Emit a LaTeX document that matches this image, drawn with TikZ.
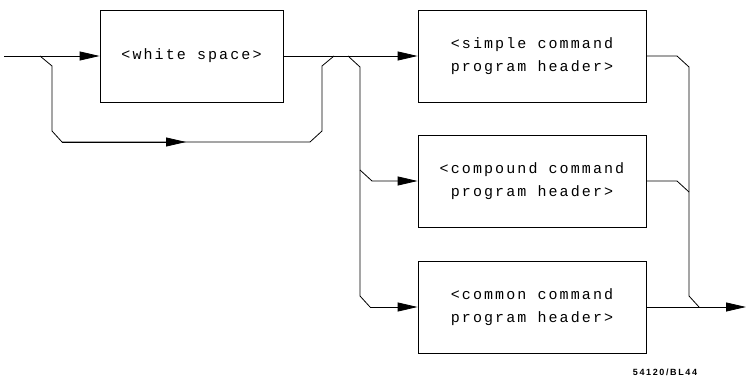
\documentclass[tikz,border=0pt]{standalone}
\usepackage{fontspec}
\newfontfamily\plotfont[LetterSpace=14]{Liberation Mono}
\newfontfamily\tagfont[LetterSpace=18]{Liberation Sans}
\usetikzlibrary{arrows.meta,calc,positioning}

\begin{document}
\begin{tikzpicture}[
  x=1pt, y=-1pt,
  font=\plotfont\fontsize{15}{23}\selectfont,
  line/.style={line width=0.8pt, draw=black, line join=round},
  flow/.style={line, -{Triangle[length=20pt, width=9pt]}},
  box/.style={draw=black, line width=0.8pt, minimum height=92pt, inner sep=0pt, align=center}
]

\useasboundingbox (0,0) rectangle (746,379);

% boxes
\node[box, minimum width=183pt] (ws) at (191.5,56) {<white space>};
\node[box, minimum width=228pt] (simple) at (532,56) {<simple command\\program header>};
\node[box, minimum width=228pt] (compound) at (532,181) {<compound command\\program header>};
\node[box, minimum width=228pt] (common) at (532,307) {<common command\\program header>};

\coordinate (in) at (4,56);
\coordinate (out) at (746,307);

% entry and bypass round <white space>
\draw[flow] (in) -- (ws.west);
\draw[line] (40,56) -- (52,66) -- (52,131) -- (62,142) -- (310,142) -- (322,131) -- (322,66) -- (334,56);
\draw[flow] (62,142) -- (186,142);

% branches to the headers
\draw[flow] (ws.east) -- (simple.west);
\draw[line] (348,56) -- (360,67) -- (360,296) -- (370,307);
\draw[flow] (360,170) -- (372,181) -- (compound.west);
\draw[flow] (370,307) -- (common.west);

% join
\draw[line] (simple.east) -- (677,56) -- (689,67) -- (689,296) -- (699,307);
\draw[line] (compound.east) -- (677,181) -- (689,192);
\draw[flow] (common.east) -- (out);

\node[font=\tagfont\bfseries\fontsize{9}{9}\selectfont] (tag) at (665,372) {54120/BL44};

\end{tikzpicture}
\end{document}
